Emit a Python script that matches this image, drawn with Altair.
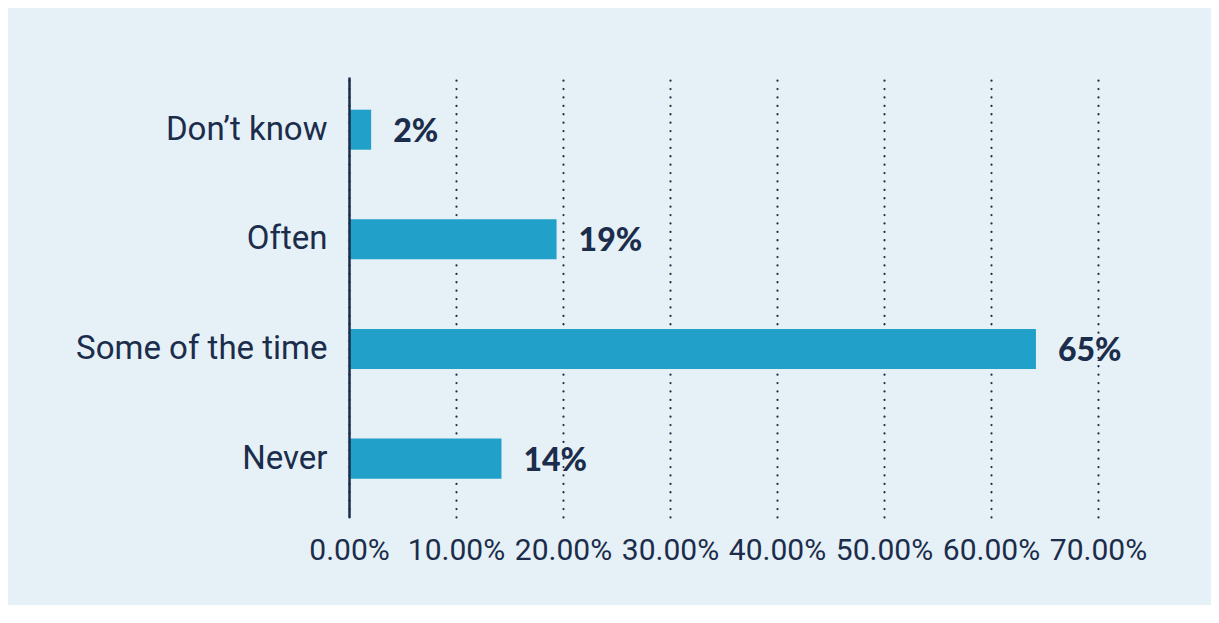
import altair as alt
import pandas as pd

# ---- data ----
categories = ["Don’t know", "Often", "Some of the time", "Never"]
shares = [0.0207, 0.194, 0.642, 0.1425]
labels = ["2%", "19%", "65%", "14%"]
x_ticks = [0.0, 0.1, 0.2, 0.3, 0.4, 0.5, 0.6, 0.7]

df = pd.DataFrame({"category": categories, "share": shares, "label": labels})

NAVY = "#1b2d4b"
BAR = "#21a0c9"
BG = "#e6f0f7"
FONT = "Roboto"

y_enc = alt.Y(
    "category:N",
    sort=categories,
    title=None,
    scale=alt.Scale(paddingInner=0.635, paddingOuter=0.324, align=0.46),
    axis=alt.Axis(
        labelFont=FONT,
        labelFontSize=33,
        labelColor=NAVY,
        labelPadding=22,
        labelLimit=500,
        ticks=False,
        domainColor=NAVY,
        domainWidth=2.5,
        grid=False,
        zindex=1,
    ),
)

x_enc = alt.X(
    "share:Q",
    title=None,
    scale=alt.Scale(domain=[0, 0.7], nice=False),
    axis=alt.Axis(
        values=x_ticks,
        format=".2%",
        domain=False,
        ticks=False,
        grid=True,
        gridDash=[0.1, 8.3],
        gridCap="round",
        gridWidth=2.2,
        gridColor=NAVY,
        labelFont=FONT,
        labelFontSize=30,
        labelColor=NAVY,
        labelPadding=18,
        labelFlush=False,
        labelOverlap=False,
    ),
)

bars = alt.Chart(df).mark_bar(color=BAR).encode(x=x_enc, y=y_enc)

text = alt.Chart(df).mark_text(
    align="left",
    baseline="middle",
    dx=22,
    dy=2,
    font="Lato",
    fontWeight=900,
    fontSize=32,
    color=NAVY,
).encode(x="share:Q", y=alt.Y("category:N", sort=categories), text="label:N")

chart = (
    alt.layer(bars, text)
    .properties(
        width=749,
        height=440,
        background=BG,
        padding={"left": 341, "top": 69, "right": 113, "bottom": 88},
        autosize=alt.AutoSizeParams(type="none"),
    )
    .configure_view(stroke=None)
)

chart.save("out.html", embed_options={"renderer": "svg", "actions": False})
